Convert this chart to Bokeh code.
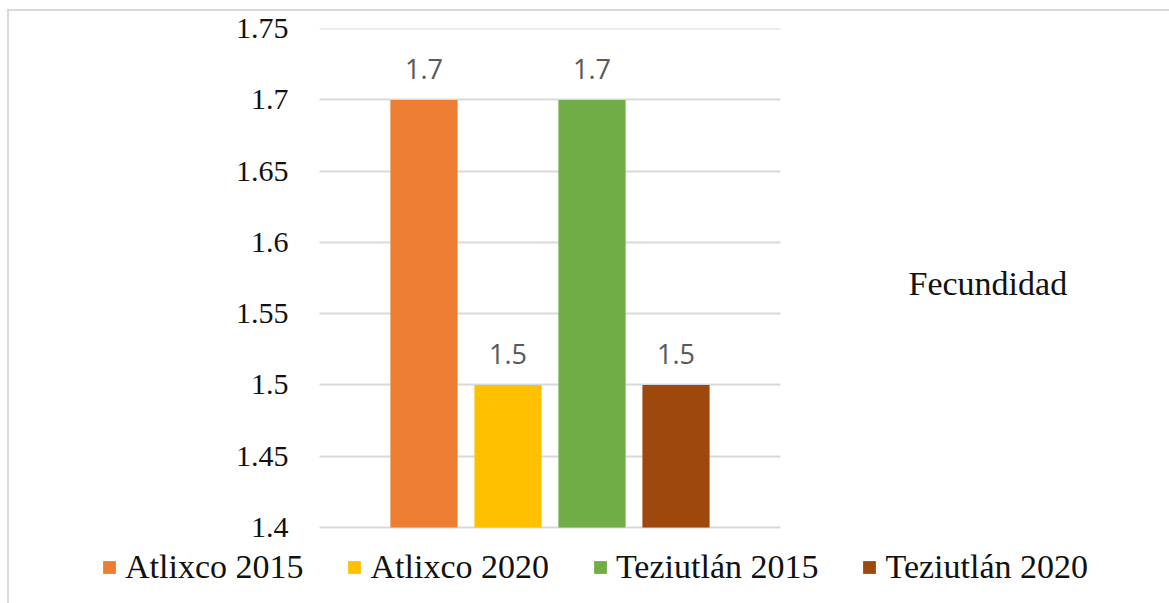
from bokeh.plotting import figure
from bokeh.models import (ColumnDataSource, Range1d, FixedTicker,
                          LabelSet, Label, Legend, LegendItem)
from bokeh.core.properties import value
from bokeh.embed import file_html
from bokeh.resources import INLINE

series = ["Atlixco 2015", "Atlixco 2020", "Teziutlán 2015", "Teziutlán 2020"]
values = [1.7, 1.5, 1.7, 1.5]
colors = ["#ED7D31", "#FFC000", "#70AD47", "#9E480E"]
tick_values = [1.4, 1.45, 1.5, 1.55, 1.6, 1.65, 1.7, 1.75]
tick_labels = ["1.4", "1.45", "1.5", "1.55", "1.6", "1.65", "1.7", "1.75"]
y_min, y_max = 1.4, 1.75
chart_title = "Fecundidad"

n = len(series)
src = ColumnDataSource(dict(
    series=series, values=values, colors=colors,
    x=[i + 0.5 for i in range(n)],
    labels=[f"{v:g}" for v in values],
))

# layout geometry (pixels)
W, H = 1160, 592
plot_left, plot_w = 310, 461      # plot area inside the canvas
plot_top, plot_h = 17, 499
pad = 0.744                       # empty category space each side of bars
ux = (n + 2 * pad) / plot_w       # data units per pixel (x)
uy = (y_max - y_min) / plot_h     # data units per pixel (y)
eps = 1e-4

p = figure(
    x_range=Range1d(-pad - plot_left * ux, -pad + (W - plot_left) * ux),
    y_range=Range1d(y_min - (H - plot_top - plot_h) * uy, y_max + eps),
    width=W, height=H,
    output_backend="svg", toolbar_location=None,
    x_axis_location=None,
    min_border_left=0, min_border_right=0,
    min_border_top=plot_top, min_border_bottom=0,
)
p.margin = (11, 0, 0, 9)
p.styles = {"outline": "2px solid #D9D9D9"}
p.outline_line_color = None
p.background_fill_color = "white"
p.border_fill_color = "white"

r = p.vbar(x="x", top="values", bottom=y_min, width=0.8, source=src,
           fill_color="colors", line_color=None)

# y axis (labels drawn inside the canvas, right-aligned next to the plot area)
ax = p.yaxis[0]
ax.ticker = FixedTicker(ticks=tick_values)
ax.major_label_overrides = {v: s for v, s in zip(tick_values, tick_labels)}
ax.axis_line_color = None
ax.major_tick_line_color = None
ax.minor_tick_line_color = None
ax.major_tick_out = 0
ax.major_tick_in = 0
ax.major_label_standoff = -(plot_left - 31)
ax.major_label_text_font = "Liberation Serif"
ax.major_label_text_font_size = "30px"
ax.major_label_text_color = "#111111"

p.xgrid.grid_line_color = None
p.ygrid.grid_line_color = "#D9D9D9"
p.ygrid.grid_line_width = 2
p.ygrid.cross_bounds = (-pad, n + pad)
p.ygrid.bounds = (y_min, y_max)

labels = LabelSet(x="x", y="values", text="labels", source=src,
                  text_align="center", text_baseline="alphabetic",
                  y_offset=21, text_font=value("Open Sans"),
                  text_font_size="27px", text_color="#595959")
p.add_layout(labels)

title = Label(x=899, y=320, x_units="screen", y_units="screen",
              text=chart_title, text_font="Liberation Serif",
              text_font_size="34px", text_color="#111111",
              text_baseline="alphabetic", text_align="left")
p.add_layout(title)

items = [LegendItem(label=s, renderers=[r], index=i) for i, s in enumerate(series)]
lg = Legend(items=items, orientation="horizontal", location=(92, 17))
lg.glyph_width = 16
lg.glyph_height = 16
lg.label_standoff = 8
lg.spacing = 43
lg.padding = 0
lg.margin = 0
lg.border_line_color = None
lg.background_fill_alpha = 0
lg.label_text_font = "Liberation Serif"
lg.label_text_font_size = "34px"
lg.label_text_color = "#111111"
p.add_layout(lg)

open("out.html", "w").write(file_html(p, INLINE))
